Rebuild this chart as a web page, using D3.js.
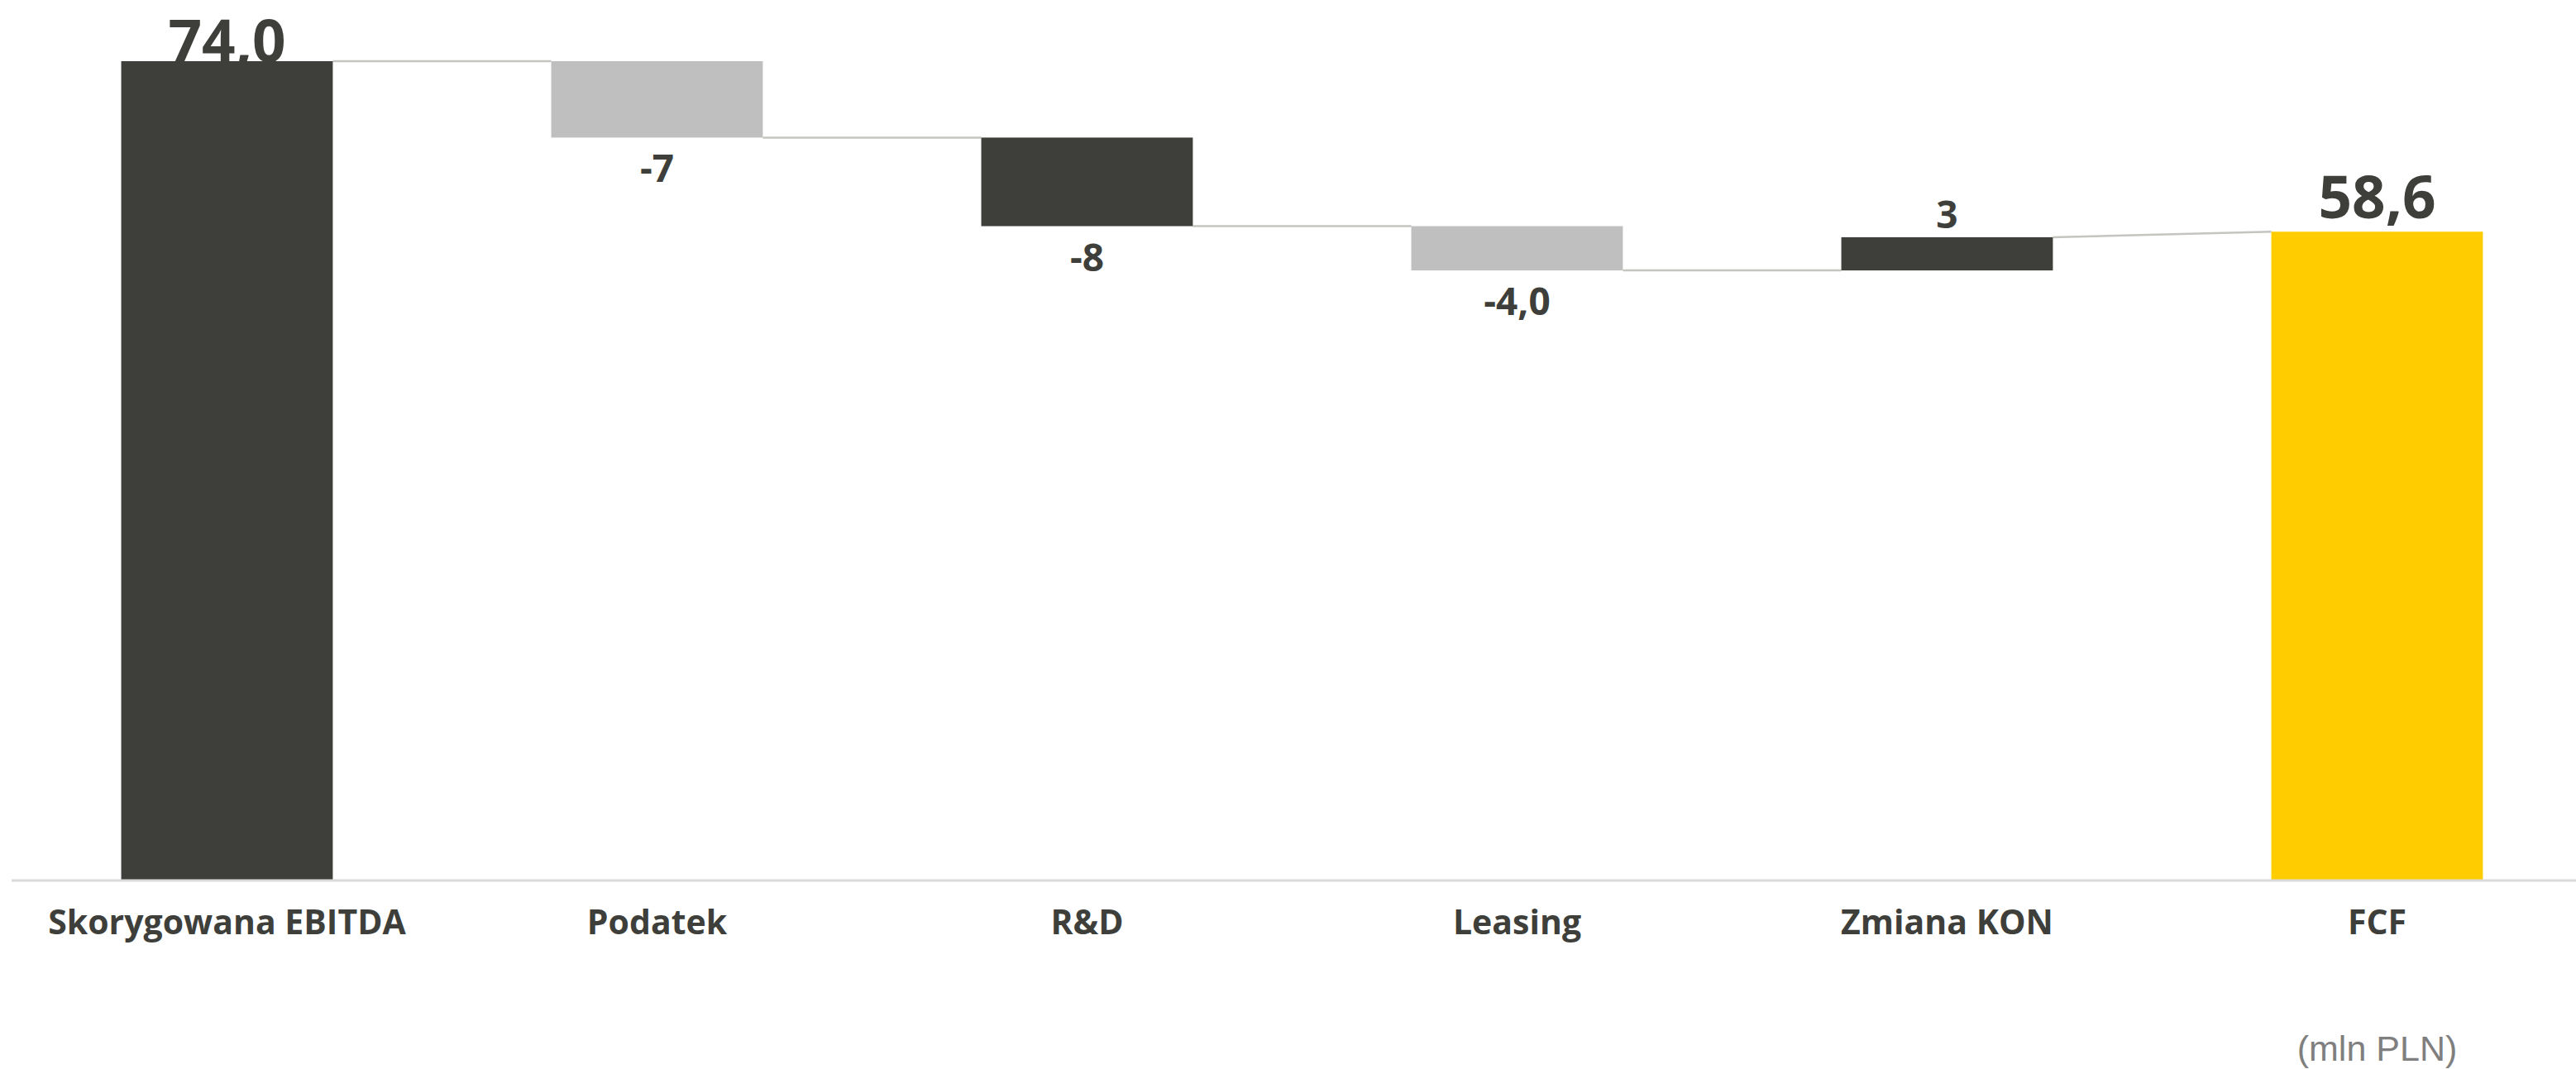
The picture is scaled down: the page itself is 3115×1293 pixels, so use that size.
<!DOCTYPE html>
<html>
<head>
<meta charset="utf-8">
<script src="https://cdn.jsdelivr.net/npm/d3@7"></script>
<style>
  html, body { margin: 0; padding: 0; background: #fff; }
  svg { display: block; }
</style>
</head>
<body>
<svg id="chart"></svg>
<script>
(function () {
  'use strict';

  // waterfall data (mln PLN)
  const categories = ['Skorygowana EBITDA', 'Podatek', 'R&D', 'Leasing', 'Zmiana KON', 'FCF'];
  const values = [74.0, -6.9, -8.0, -4.0, 3.0, 58.6];
  const kinds = ['total', 'delta', 'delta', 'delta', 'delta', 'total'];
  const valueLabels = ['74,0', '-7', '-8', '-4,0', '3', '58,6'];
  const unitLabel = '(mln PLN)';

  const palette = ['#3e3f3a', '#bfbfbf', '#3e3f3a', '#bfbfbf', '#3e3f3a', '#ffcc00'];
  const textColor = '#3e3f3a';

  const width = 3115;
  const height = 1293;

  // running totals -> start/end for every bar
  let running = 0;
  const rows = categories.map(function (c, i) {
    let start, end;
    if (kinds[i] === 'total') {
      start = 0;
      end = values[i];
      running = values[i];
    } else {
      start = running;
      end = running + values[i];
      running = end;
    }
    return { cat: c, start: start, end: end, value: values[i], kind: kinds[i], label: valueLabels[i], color: palette[i] };
  });

  const svg = d3.select('#chart')
    .attr('width', width)
    .attr('height', height);

  const x = d3.scaleBand()
    .domain(categories)
    .range([14.5, 3134.5])
    .paddingInner(0.508)
    .paddingOuter(0.254);

  const yMax = d3.max(rows, function (d) { return Math.max(d.start, d.end); });
  const y = d3.scaleLinear()
    .domain([0, yMax])
    .range([1065, 74]);

  // connectors (drawn first, under bars)
  const links = d3.pairs(rows);
  svg.append('g')
    .selectAll('line')
    .data(links)
    .enter()
    .append('line')
    .attr('x1', function (d) { return x(d[0].cat) + x.bandwidth(); })
    .attr('x2', function (d) { return x(d[1].cat); })
    .attr('y1', function (d) { return y(d[0].end); })
    .attr('y2', function (d) { return y(d[1].kind === 'total' ? d[1].end : d[1].start); })
    .attr('stroke', '#c4c4c0')
    .attr('stroke-width', 2.5);

  // bars
  svg.append('g')
    .selectAll('rect')
    .data(rows)
    .enter()
    .append('rect')
    .attr('x', function (d) { return x(d.cat); })
    .attr('width', x.bandwidth())
    .attr('y', function (d) { return y(Math.max(d.start, d.end)); })
    .attr('height', function (d) { return Math.abs(y(d.start) - y(d.end)); })
    .attr('fill', function (d) { return d.color; });

  // x axis
  const xAxis = d3.axisBottom(x).tickSize(0).tickPadding(0);
  const gx = svg.append('g')
    .attr('transform', 'translate(0,' + y(0) + ')')
    .call(xAxis);
  gx.select('.domain').remove();
  gx.append('line')
    .attr('x1', 14)
    .attr('x2', width)
    .attr('stroke', '#d9d9d9')
    .attr('stroke-width', 3);
  gx.selectAll('.tick text')
    .attr('y', 65)
    .attr('dy', 0)
    .attr('fill', textColor)
    .style('font-family', '"Open Sans", "Noto Sans", sans-serif')
    .style('font-weight', 700)
    .style('font-size', '41px');

  // value labels
  svg.append('g')
    .selectAll('text')
    .data(rows)
    .enter()
    .append('text')
    .attr('x', function (d) { return x(d.cat) + x.bandwidth() / 2; })
    .attr('y', function (d) {
      if (d.kind === 'total') {
        // keep the top label inside the picture
        return Math.max(y(d.end) - 16, 75);
      }
      if (d.value < 0) {
        return y(d.end) + 54;
      }
      return y(d.end) - 11;
    })
    .attr('text-anchor', 'middle')
    .attr('fill', textColor)
    .style('font-family', '"Open Sans", "Noto Sans", sans-serif')
    .style('font-weight', 700)
    .style('font-size', function (d) { return d.kind === 'total' ? '71px' : '46px'; })
    .text(function (d) { return d.label; });

  // unit note
  svg.append('text')
    .attr('x', x('FCF') + x.bandwidth() / 2)
    .attr('y', 1283)
    .attr('text-anchor', 'middle')
    .attr('fill', '#7f7f7f')
    .style('font-family', '"Liberation Sans", Arial, sans-serif')
    .style('font-size', '43px')
    .text(unitLabel);
}());
</script>
</body>
</html>
